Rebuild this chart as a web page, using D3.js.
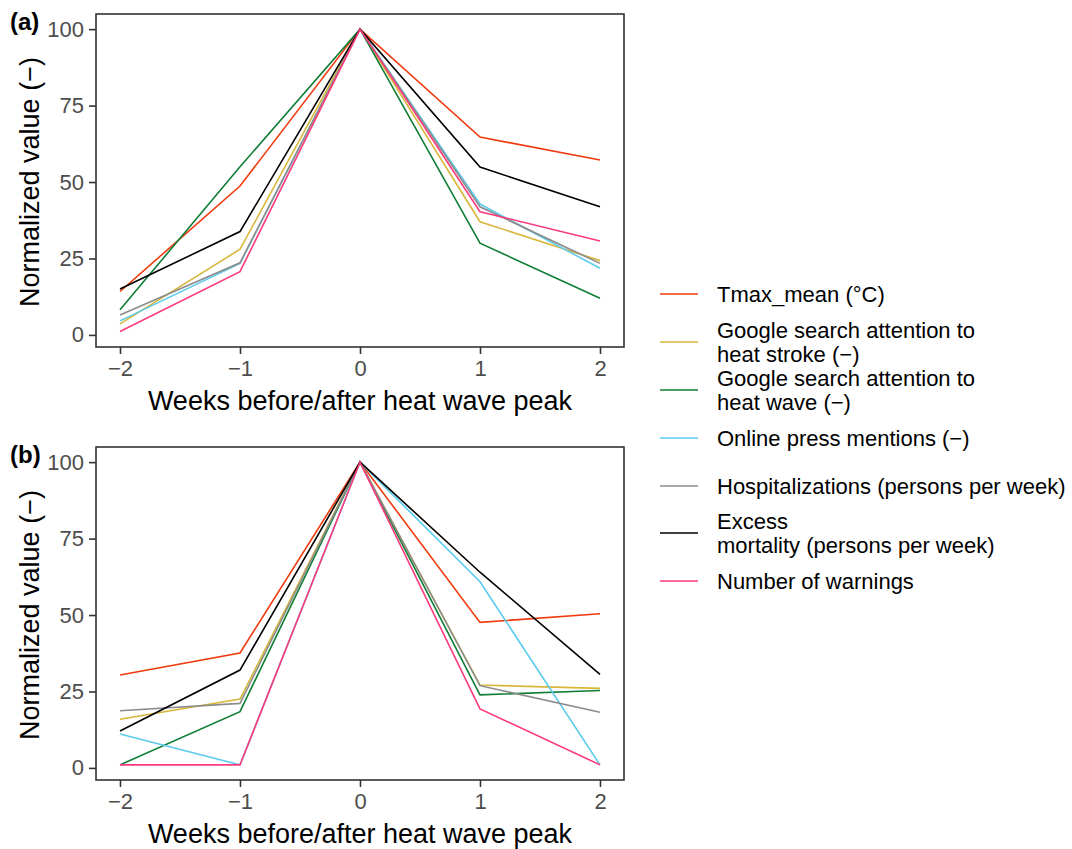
<!DOCTYPE html>
<html><head><meta charset="utf-8">
<script src="https://cdn.jsdelivr.net/npm/d3@7"></script>
<style>body{margin:0;background:#fff}svg{display:block}text{font-family:"Liberation Sans",Arial,sans-serif}</style>
</head><body><div id="chart"></div>
<script>
const weeks = [-2, -1, 0, 1, 2];
const seriesNames = ["Tmax_mean (°C)", "Google search attention to\nheat stroke (−)", "Google search attention to\nheat wave (−)", "Online press mentions (−)", "Hospitalizations (persons per week)", "Excess\nmortality (persons per week)", "Number of warnings"];
const seriesColors = ["#f03a0e", "#d8b63a", "#0f7d35", "#5ccbec", "#8c8c8c", "#000000", "#fd3a7d"];
// panel (a)
const a_tmax = [14.2, 48.7, 100, 64.7, 57.2];
const a_stroke = [3.6, 28.0, 100, 37.0, 24.3];
const a_wave = [8.2, 55.0, 100, 30.0, 12.0];
const a_press = [4.6, 23.4, 100, 42.8, 21.8];
const a_hosp = [6.5, 23.6, 100, 41.9, 23.4];
const a_excess = [15.0, 33.8, 100, 54.9, 41.9];
const a_warn = [1.1, 20.7, 100, 40.3, 30.7];
// panel (b)
const b_tmax = [30.4, 37.6, 100, 47.6, 50.4];
const b_stroke = [15.9, 22.5, 100, 27.1, 26.0];
const b_wave = [1.0, 18.4, 100, 23.9, 25.3];
const b_press = [11.1, 1.0, 100, 60.9, 1.0];
const b_hosp = [18.7, 21.1, 100, 26.9, 18.2];
const b_excess = [12.1, 32.0, 100, 64.0, 30.6];
const b_warn = [1.0, 1.0, 100, 19.3, 1.0];
const yTicks = [0, 25, 50, 75, 100];
const xTicks = [-2, -1, 0, 1, 2];
const panelLabels = ["(a)", "(b)"];
const xTitle = "Weeks before/after heat wave peak";
const yTitle = "Normalized value (−)";

const panelsData = [
  [a_tmax, a_stroke, a_wave, a_press, a_hosp, a_excess, a_warn],
  [b_tmax, b_stroke, b_wave, b_press, b_hosp, b_excess, b_warn]
];

const W = 1072, H = 849;
const svg = d3.select("#chart").append("svg").attr("width", W).attr("height", H);
const left = 96, right = 624;
const x = d3.scaleLinear().domain([-2.2, 2.2]).range([left, right]);

panelsData.forEach((series, p) => {
  const off = p * 433;
  const top = 14 + off, bottom = 347 + off;
  const y = d3.scaleLinear().domain([-3.95, 104.95]).range([bottom, top]);
  const g = svg.append("g");
  const line = d3.line().x((d, i) => x(weeks[i])).y(d => y(d));
  series.forEach((vals, si) => {
    g.append("path").datum(vals).attr("d", line)
      .attr("fill", "none").attr("stroke", seriesColors[si]).attr("stroke-width", 1.6)
      .attr("stroke-linejoin", "miter");
  });
  g.append("rect").attr("x", left).attr("y", top).attr("width", right - left).attr("height", bottom - top)
    .attr("fill", "none").attr("stroke", "#333").attr("stroke-width", 1.6);
  const xa = g.append("g").attr("transform", `translate(0,${bottom})`)
    .call(d3.axisBottom(x).tickValues(xTicks).tickSize(7).tickPadding(6).tickFormat(d => d < 0 ? "−" + Math.abs(d) : d));
  const ya = g.append("g").attr("transform", `translate(${left},0)`)
    .call(d3.axisLeft(y).tickValues(yTicks).tickSize(7).tickPadding(5));
  [xa, ya].forEach(a => {
    a.select(".domain").remove();
    a.selectAll(".tick line").attr("stroke", "#333").attr("stroke-width", 1.6);
    a.selectAll(".tick text").attr("fill", "#4d4d4d").style("font-size", "22px")
      .style("font-family", '"Liberation Sans",Arial,sans-serif');
  });
  g.append("text").attr("x", (left + right) / 2).attr("y", 410 + off).attr("text-anchor", "middle")
    .style("font-size", "27px").attr("fill", "#000").text(xTitle);
  g.append("text").attr("transform", `translate(39,${y(50)}) rotate(-90)`).attr("text-anchor", "middle")
    .style("font-size", "27px").attr("fill", "#000").text(yTitle);
  g.append("text").attr("x", 10).attr("y", 30 + off).style("font-size", "24px").style("font-weight", "bold")
    .text(panelLabels[p]);
});

const keyYs = [294, 342, 390, 438, 486, 533, 581];
const lg = svg.append("g");
seriesNames.forEach((name, i) => {
  const ky = keyYs[i];
  lg.append("line").attr("x1", 660).attr("x2", 698).attr("y1", ky).attr("y2", ky)
    .attr("stroke", seriesColors[i]).attr("stroke-width", 1.6);
  const lines = name.split("\n");
  const t = lg.append("text").attr("x", 717).style("font-size", "22px").attr("fill", "#000");
  lines.forEach((ln, j) => {
    t.append("tspan").attr("x", 717).attr("y", ky + 8 + (j - (lines.length - 1) / 2) * 24).text(ln);
  });
});
</script></body></html>
